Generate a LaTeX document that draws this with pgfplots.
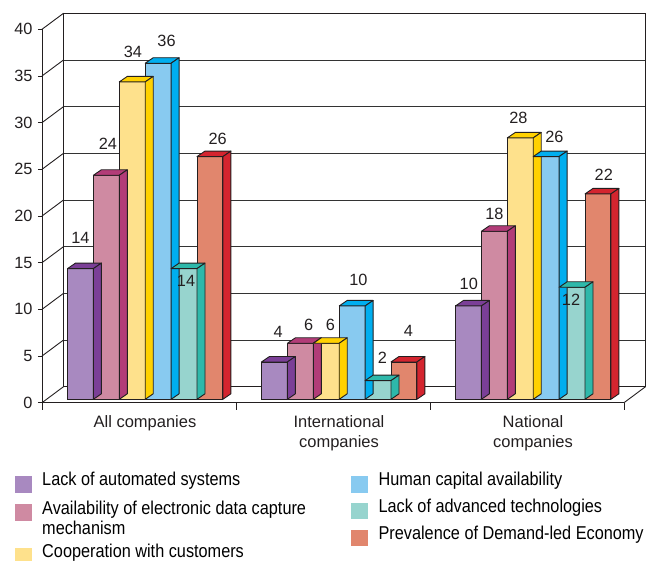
\documentclass[border=0pt]{standalone}
\usepackage{pgfplots}
\usepackage{pgfplotstable}
\pgfplotsset{compat=1.18}
\usepackage{fontspec}
\setmainfont{Liberation Sans}
\newfontfamily\legfont[FakeStretch=0.875]{Liberation Sans}

\definecolor{edge}{HTML}{231F20}
\definecolor{fA}{HTML}{A889C0}\definecolor{dA}{HTML}{7B3F97}
\definecolor{fB}{HTML}{CF8AA2}\definecolor{dB}{HTML}{B23C78}
\definecolor{fC}{HTML}{FEE18C}\definecolor{dC}{HTML}{FFD100}
\definecolor{fD}{HTML}{88CAF0}\definecolor{dD}{HTML}{00AEEF}
\definecolor{fE}{HTML}{97D4CE}\definecolor{dE}{HTML}{2EB8AA}
\definecolor{fF}{HTML}{E1866D}\definecolor{dF}{HTML}{D4252F}

% x: 0 = All companies, 1 = International companies, 2 = National companies
% v = value, lx/ly = label offset (pt) from the bar top
\pgfplotstableread{
x v lx ly
0 14 0 31
1 4 3.7 30
2 10 0.3 22.4
}\sA
\pgfplotstableread{
x v lx ly
0 24 1.5 31.4
1 6 8.4 18
2 18 0 17.5
}\sB
\pgfplotstableread{
x v lx ly
0 34 0.6 30
1 6 4.2 18
2 28 -1.8 20
}\sC
\pgfplotstableread{
x v lx ly
0 36 8.4 22
1 10 6.3 25.7
2 26 8.3 19.2
}\sD
\pgfplotstableread{
x v lx ly
0 14 2 -12.7
1 2 4.4 23
2 12 -1 -13
}\sE
\pgfplotstableread{
x v lx ly
0 26 7.7 17.6
1 4 4.5 31
2 22 5.8 19
}\sF

\pgfplotsset{
  base/.style={x=194pt, y=9.335pt, xmin=-0.5, xmax=2.5, ymin=0, ymax=40,
    anchor=south west, clip=false, enlargelimits=false,
    /pgf/number format/assume math mode=true},
  front/.style 2 args={ybar, bar width=25.9pt, bar shift=#1pt, fill=#2, draw=edge,
    line width=0.9pt,
    nodes near coords,
    visualization depends on={\thisrow{lx} \as \lx},
    visualization depends on={\thisrow{ly} \as \ly},
    nodes near coords style={anchor=center, xshift={(\lx)*1pt+(#1)*1pt}, yshift=\ly pt,
      font=\fontsize{16.3}{18}\selectfont, text=edge}},
  faces/.style 2 args={scatter, only marks, mark=text, text mark={}, forget plot,
    visualization depends on={rawy \as \val},
    scatter/@pre marker code/.code={
      \pgfmathsetmacro\xl{#1-12.95}\pgfmathsetmacro\xr{#1+12.95}
      \filldraw[fill=#2, draw=edge, line width=0.9pt, line join=round]
        (\xl pt,0pt) -- ({\xl pt+8pt},5.5pt) -- ({\xr pt+8pt},5.5pt) -- (\xr pt,0pt) -- cycle;
      \filldraw[fill=#2, draw=edge, line width=0.9pt, line join=round]
        (\xr pt,0pt) -- ({\xr pt+8pt},5.5pt) -- ({\xr pt+8pt},{5.5pt-\val*9.335pt})
        -- (\xr pt,{-\val*9.335pt}) -- cycle;
    },
    scatter/@post marker code/.code={}},
  leg/.style={legend style={draw=none, fill=none, inner sep=0pt, anchor=north west,
      column sep=10.4pt, row sep=8.2pt,
      font=\legfont\fontsize{18.6}{17.4}\selectfont,
      cells={anchor=base west}, nodes={inner sep=0pt}},
    legend image code/.code={\fill[##1, draw=none] (0pt,-6.8pt) rectangle (17pt,10pt);}},
}

\begin{document}
\begin{tikzpicture}
\useasboundingbox (-42pt,-158.3pt) rectangle (613pt,402.7pt);

% back wall
\begin{axis}[base, at={(21.5pt,16pt)}, leg,
  axis line style={line width=1.1pt, edge},
  xtick=\empty, ytick={5,10,...,35}, yticklabels={},
  tick style={draw=none}, major tick length=0pt,
  ymajorgrids, grid style={line width=0.9pt, black!80},
  legend style={at={(axis description cs:0.494,-0.2287)}, row sep=6.6pt}]
\addlegendimage{fill=fD}\addlegendentry{Human capital availability}
\addlegendimage{fill=fE}\addlegendentry{Lack of advanced technologies}
\addlegendimage{fill=fF}\addlegendentry{Prevalence of Demand-led Economy}
\end{axis}

% front axis
\begin{axis}[base, at={(0pt,0pt)}, leg,
  axis x line*=bottom, axis y line*=left,
  axis line style={line width=0.9pt, edge},
  tick style={edge, line width=0.9pt},
  ytick={0,5,...,40}, xtick={0,1,2},
  xticklabels={All companies, {International\\companies}, {National\\companies}},
  minor xtick={-0.5,0.5,1.5,2.5},
  tick align=outside, major tick length=4pt, minor tick length=7pt,
  major x tick style={draw=none},
  xticklabel style={align=center, anchor=north, text=edge,
    font=\fontsize{16.5}{20}\selectfont, xshift=6pt, yshift=-5pt},
  yticklabel style={font=\fontsize{16.3}{18}\selectfont, text=edge, xshift=-2pt},
  legend style={at={(axis description cs:-0.04708,-0.1859)}}]
\addlegendimage{fill=fA}\addlegendentry{Lack of automated systems}
\addlegendimage{fill=fB}\addlegendentry{\raisebox{0pt}[\height][0pt]{Availability of electronic data capture}}
\addlegendimage{empty legend}\addlegendentry{\raisebox{0pt}[5.4pt][1.2pt]{mechanism}}
\addlegendimage{fill=fC}\addlegendentry{Cooperation with customers}
\pgfplotsinvokeforeach{0,5,...,40}{
  \draw[edge, line width=0.9pt] (axis cs:-0.5,#1) -- ++(21.5pt,16pt);
}
\draw[edge, line width=0.9pt] (axis cs:2.5,0) -- ++(21.5pt,16pt);
\end{axis}

% bars
\begin{axis}[base, at={(6.2pt,3.4pt)}, hide axis]
\addplot[front={-64.75}{fA}] table[x=x,y=v] {\sA};
\addplot[faces={-64.75}{dA}] table[x=x,y=v] {\sA};
\addplot[front={-38.85}{fB}] table[x=x,y=v] {\sB};
\addplot[faces={-38.85}{dB}] table[x=x,y=v] {\sB};
\addplot[front={-12.95}{fC}] table[x=x,y=v] {\sC};
\addplot[faces={-12.95}{dC}] table[x=x,y=v] {\sC};
\addplot[front={12.95}{fD}] table[x=x,y=v] {\sD};
\addplot[faces={12.95}{dD}] table[x=x,y=v] {\sD};
\addplot[front={38.85}{fE}] table[x=x,y=v] {\sE};
\addplot[faces={38.85}{dE}] table[x=x,y=v] {\sE};
\addplot[front={64.75}{fF}] table[x=x,y=v] {\sF};
\addplot[faces={64.75}{dF}] table[x=x,y=v] {\sF};
\end{axis}
\end{tikzpicture}
\end{document}
